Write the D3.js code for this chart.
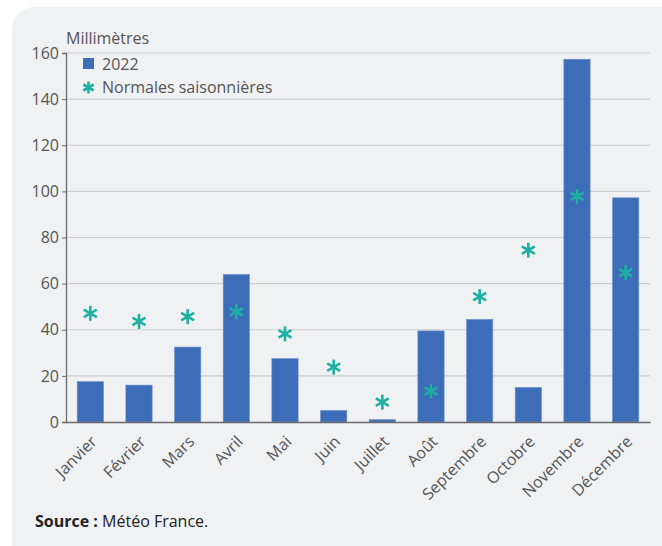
<!DOCTYPE html>
<html><head><meta charset="utf-8">
<script src="https://cdn.jsdelivr.net/npm/d3@7"></script>
<style>
body{margin:0;background:#fff;}
svg{display:block;font-family:"Open Sans",sans-serif;}
</style></head><body>
<svg id="c" width="662" height="546"></svg>
<script>
const months = ["Janvier","Février","Mars","Avril","Mai","Juin","Juillet","Août","Septembre","Octobre","Novembre","Décembre"];
const values2022 = [17.5,16,32.5,64,27.5,5,1,39.5,44.5,15,157.3,97.2];
const normales = [47.1,43.6,45.7,47.8,38.2,23.8,8.6,13.4,54.4,74.5,97.8,64.8];
const yTicks = [0,20,40,60,80,100,120,140,160];

const svg = d3.select("#c");
const barColor = "#3d6cb8", starColor = "#1eb0a2";
svg.append("rect").attr("x",12).attr("y",7).attr("width",680).attr("height",560).attr("rx",22).attr("fill","#f0f1f3");

const m = {l:66,r:650,t:53,b:422};
const x = d3.scaleBand().domain(months).range([m.l,m.r]).paddingInner(0.46).paddingOuter(0.23);
const y = d3.scaleLinear().domain([0,160]).range([m.b,m.t]);

// grid
svg.append("g").selectAll("line").data(yTicks.filter(d=>d>0)).join("line")
  .attr("x1",m.l).attr("x2",m.r).attr("y1",d=>y(d)).attr("y2",d=>y(d))
  .attr("stroke","#cdcdd1").attr("stroke-width",1.2);

// y axis
const ya = svg.append("g").attr("transform",`translate(${m.l},0)`)
  .call(d3.axisLeft(y).tickValues(yTicks).tickSize(4).tickPadding(3));
ya.select(".domain").attr("stroke","#6a6a6a").attr("stroke-width",1.3);
ya.selectAll(".tick line").attr("stroke","#6a6a6a");
ya.selectAll("text").attr("font-size",16).attr("fill","#555").attr("font-family","Open Sans");

// bars
svg.append("g").selectAll("rect").data(months).join("rect")
  .attr("x",d=>x(d)).attr("width",x.bandwidth())
  .attr("y",(d,i)=>y(values2022[i])).attr("height",(d,i)=>y(0)-y(values2022[i]))
  .attr("fill",barColor).attr("stroke","#6d8fcb").attr("stroke-width",0.6);

// x axis
const xa = svg.append("g").attr("transform",`translate(0,${m.b})`)
  .call(d3.axisBottom(x).tickSize(0).tickPadding(8));
xa.select(".domain").attr("stroke","#6a6a6a").attr("stroke-width",1.5);
xa.selectAll("text").attr("font-size",16).attr("fill","#555").attr("font-family","Open Sans")
  .attr("text-anchor","end").attr("transform","translate(-2,11) rotate(-45)").attr("dy","0.35em");

// asterisk
function star(g,cx,cy,r){
  const a=[90,30,150];
  a.forEach(deg=>{
    const rad=deg*Math.PI/180;
    g.append("line").attr("x1",cx-r*Math.cos(rad)).attr("y1",cy-r*Math.sin(rad))
      .attr("x2",cx+r*Math.cos(rad)).attr("y2",cy+r*Math.sin(rad))
      .attr("stroke",starColor).attr("stroke-width",2.6);
  });
}
const sg = svg.append("g");
months.forEach((mo,i)=>star(sg,x(mo)+x.bandwidth()/2,y(normales[i]),7.5));

// title & legend
svg.append("text").attr("x",66).attr("y",44).attr("font-size",16).attr("fill","#555").text("Millimètres");
svg.append("rect").attr("x",83).attr("y",58).attr("width",11).attr("height",11).attr("fill",barColor);
svg.append("text").attr("x",102).attr("y",70).attr("font-size",16).attr("fill","#555").text("2022");
star(svg,88.5,87.5,6);
svg.append("text").attr("x",102).attr("y",93).attr("font-size",16).attr("fill","#555").text("Normales saisonnières");

// source
const src = svg.append("text").attr("x",35).attr("y",527).attr("font-size",16).attr("fill","#222");
src.append("tspan").attr("font-weight","bold").text("Source :");
src.append("tspan").text(" Météo France.");
</script></body></html>
